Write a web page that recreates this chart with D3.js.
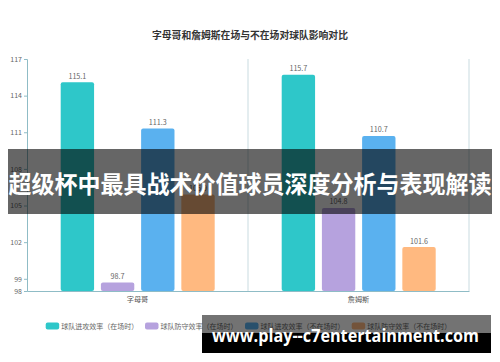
<!DOCTYPE html>
<html><head><meta charset="utf-8">
<script src="https://cdn.jsdelivr.net/npm/d3@7"></script>
<style>html,body{margin:0;padding:0;background:#fff;}svg{display:block;}</style>
</head><body>
<svg id="c" width="500" height="362"></svg>
<script>
const title = "字母哥和詹姆斯在场与不在场对球队影响对比";
const categories = ["字母哥", "詹姆斯"];
const seriesNames = ["球队进攻效率（在场时）", "球队防守效率（在场时）", "球队进攻效率（不在场时）", "球队防守效率（不在场时）"];
const offOn   = [115.1, 115.7];
const defOn   = [98.7, 104.8];
const offOff  = [111.3, 110.7];
const defOff  = [105.9, 101.6];
const seriesValues = [offOn, defOn, offOff, defOff];
const colors = ["#2ec7c9", "#b6a2de", "#5ab1ef", "#ffb980"];
const yTicks = [98, 99, 102, 105, 108, 111, 114, 117];
const banner = "超级杯中最具战术价值球员深度分析与表现解读";
const watermark = "www.play--c7entertainment.com";

const font = "'Noto Sans CJK SC','Noto Sans',sans-serif";
const svg = d3.select("#c");
const L = 27, R = 469, T = 59, B = 291;

const x = d3.scaleBand().domain(categories).range([L, R]).padding(0);
const xi = d3.scaleBand().domain(seriesNames).range([33.7, x.bandwidth() - 33.3]).paddingInner(0.17).paddingOuter(0);
const y = d3.scaleLinear().domain([98, 117]).range([B, T]);

// title
svg.append("text").attr("x", 250).attr("y", 39).attr("text-anchor", "middle")
  .attr("font-family", font).attr("font-size", 9.8).attr("font-weight", "bold").attr("fill", "#333").text(title);

// category split lines
const axisColor = "#8fbcc6";
svg.append("g").selectAll("line").data(categories).join("line")
  .attr("x1", d => x(d) + x.bandwidth()).attr("x2", d => x(d) + x.bandwidth())
  .attr("y1", T).attr("y2", B).attr("stroke", "#c9dbe0").attr("stroke-width", 1);

// bars
const data = [];
categories.forEach((c, ci) => seriesNames.forEach((s, si) => data.push({c, s, si, v: seriesValues[si][ci]})));
svg.append("g").selectAll("rect").data(data).join("rect")
  .attr("x", d => x(d.c) + xi(d.s)).attr("width", xi.bandwidth())
  .attr("y", d => y(d.v)).attr("height", d => B - y(d.v))
  .attr("rx", 2).attr("fill", d => colors[d.si]);

// value labels
svg.append("g").selectAll("text").data(data).join("text")
  .attr("x", d => x(d.c) + xi(d.s) + xi.bandwidth() / 2).attr("y", d => y(d.v) - 3.5)
  .attr("text-anchor", "middle").attr("font-family", font).attr("font-size", 7.2).attr("fill", "#666")
  .text(d => d.v.toFixed(1));

// y axis
const ya = svg.append("g").attr("transform", `translate(${L},0)`)
  .call(d3.axisLeft(y).tickValues(yTicks).tickSize(3).tickPadding(2).tickFormat(d3.format("d")));
ya.select(".domain").attr("stroke", axisColor);
ya.selectAll(".tick line").attr("stroke", axisColor);
ya.selectAll(".tick text").attr("font-family", font).attr("font-size", 7).attr("fill", "#666");

// x axis
const xa = svg.append("g").attr("transform", `translate(0,${B})`)
  .call(d3.axisBottom(x).tickSize(0).tickPadding(6));
xa.select(".domain").attr("stroke", axisColor);
xa.selectAll(".tick text").attr("font-family", font).attr("font-size", 7.2).attr("fill", "#555");

// legend
const legX = [45.7, 145, 245, 351.7];
const lg = svg.append("g").selectAll("g").data(seriesNames).join("g")
  .attr("transform", (d, i) => `translate(${legX[i]},326)`);
lg.append("rect").attr("x", 0).attr("y", -3.5).attr("width", 13.5).attr("height", 7).attr("rx", 2)
  .attr("fill", (d, i) => colors[i]);
lg.append("text").attr("x", 15.5).attr("y", 2.5).attr("font-family", font).attr("font-size", 7)
  .attr("fill", "#666").text(d => d);

// banner overlay
svg.append("rect").attr("x", 8).attr("y", 149).attr("width", 484).attr("height", 65).attr("fill", "rgba(0,0,0,0.6)");
svg.append("text").attr("x", 250).attr("y", 192.5).attr("text-anchor", "middle")
  .attr("font-family", font).attr("font-size", 24).attr("font-weight", "bold").attr("fill", "#fff")
  .attr("textLength", 483).attr("lengthAdjust", "spacingAndGlyphs").text(banner);

// watermark
svg.append("rect").attr("x", 202).attr("y", 315).attr("width", 289).attr("height", 18).attr("fill", "rgba(0,0,0,0.55)");
svg.append("rect").attr("x", 202).attr("y", 333).attr("width", 289).attr("height", 20).attr("fill", "#000");
svg.append("text").attr("x", 212).attr("y", 342).attr("font-family", "'Open Sans','DejaVu Sans',sans-serif")
  .attr("font-size", 18).attr("font-weight", "bold").attr("fill", "#fff")
  .attr("textLength", 267).attr("lengthAdjust", "spacingAndGlyphs").text(watermark);
</script>
</body></html>
